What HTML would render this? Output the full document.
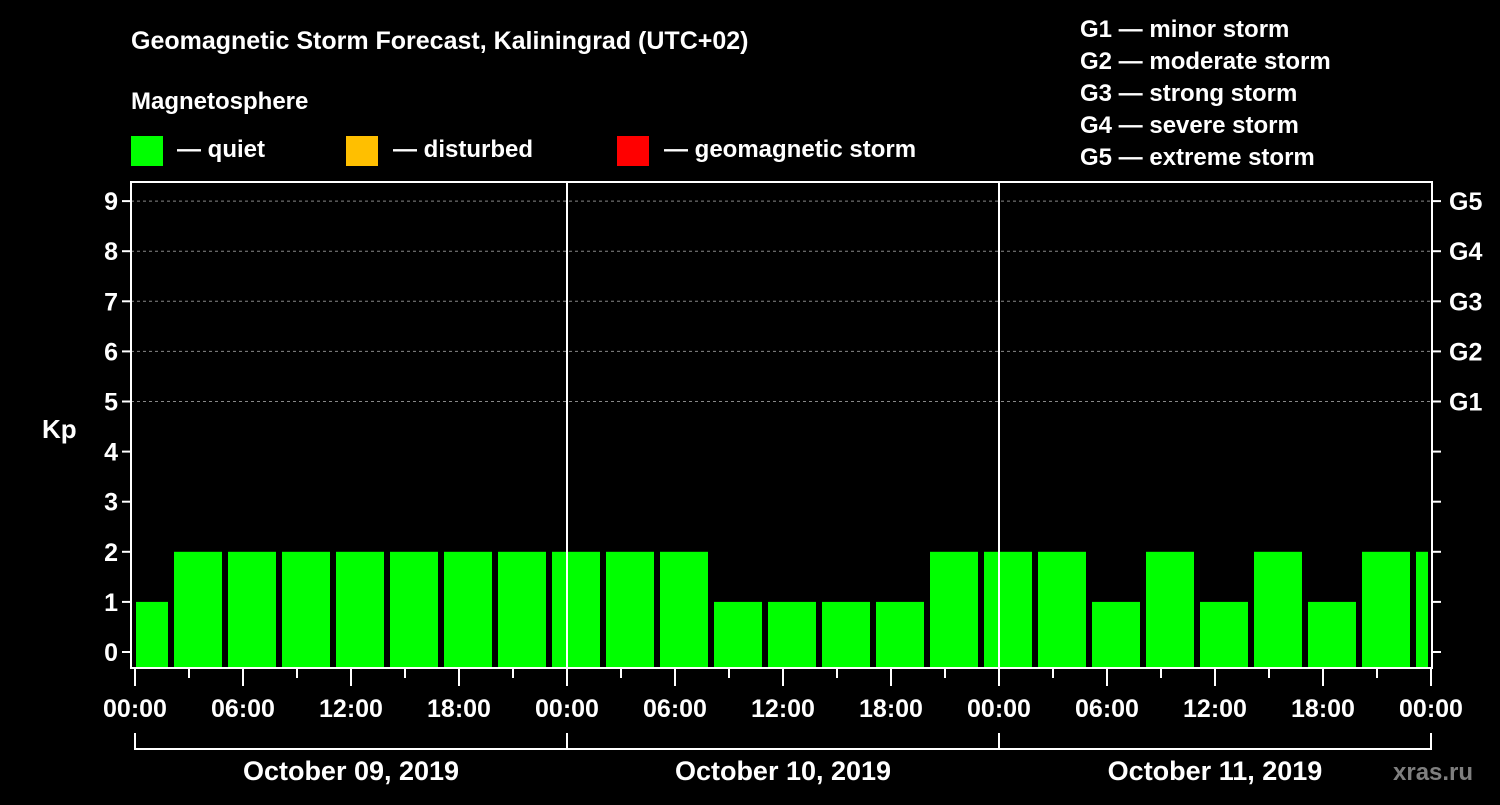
<!DOCTYPE html>
<html><head><meta charset="utf-8"><style>
body{margin:0;background:#000;width:1500px;height:800px;overflow:hidden}
text{font-family:"Liberation Sans",Arial,sans-serif;font-weight:bold;fill:#fff}
</style></head><body>
<svg id="c" width="1500" height="800">
<text x="131" y="49" font-size="25">Geomagnetic Storm Forecast, Kaliningrad (UTC+02)</text>
<text x="131" y="109" font-size="24">Magnetosphere</text>
<g>
<rect x="131" y="136" width="32" height="30" fill="#00ff00"/>
<text x="177" y="157" font-size="24">— quiet</text>
<rect x="346" y="136" width="32" height="30" fill="#ffbf00"/>
<text x="393" y="157" font-size="24">— disturbed</text>
<rect x="617" y="136" width="32" height="30" fill="#ff0000"/>
<text x="664" y="157" font-size="24">— geomagnetic storm</text>
</g>
<g font-size="24">
<text x="1080" y="37">G1 — minor storm</text>
<text x="1080" y="69">G2 — moderate storm</text>
<text x="1080" y="101">G3 — strong storm</text>
<text x="1080" y="133">G4 — severe storm</text>
<text x="1080" y="165">G5 — extreme storm</text>
</g>
<text x="42" y="438" font-size="26">Kp</text>
<text x="1393" y="780" font-size="24" fill="#888" style="fill:#7f7f7f">xras.ru</text>
<g id="grid"></g><g id="bars"></g><g id="axes"></g>
</svg>
<script>
const kpValues=[1,2,2,2,2,2,2,2, 2,2,2,1,1,1,1,2, 2,2,1,2,1,2,1,2,2];
const startHours=[-1,2,5,8,11,14,17,20,23,26,29,32,35,38,41,44,47,50,53,56,59,62,65,68,71];
const yTicks=[0,1,2,3,4,5,6,7,8,9];
const gLabels=["G1","G2","G3","G4","G5"];
const gLevels=[5,6,7,8,9];
const xTickLabels=["00:00","06:00","12:00","18:00","00:00","06:00","12:00","18:00","00:00","06:00","12:00","18:00","00:00"];
const dayLabels=["October 09, 2019","October 10, 2019","October 11, 2019"];
const NS="http://www.w3.org/2000/svg";
const L=131,R=1432,T=182,B=668;
const xs=h=>135+18*h;
const ys=v=>652-50.1*v;
function mk(p,tag,a){const e=document.createElementNS(NS,tag);for(const k in a)e.setAttribute(k,a[k]);document.getElementById(p).appendChild(e);return e;}
yTicks.forEach(v=>{if(v>=5){const e=mk('grid','line',{x1:L,x2:R,y1:ys(v),y2:ys(v),stroke:'#888','stroke-dasharray':'3,3','stroke-width':1});

}});
kpValues.forEach((v,i)=>{const x1=Math.max(xs(startHours[i])+3,136),x2=Math.min(xs(startHours[i]+3)-3,1428);
const c=v>=5?'#ff0000':(v>=4?'#ffbf00':'#00ff00');
const e=mk('bars','rect',{x:x1,y:ys(v),width:x2-x1,height:667-ys(v),fill:c});

});
[1,2].forEach(d=>{const e=mk('axes','line',{x1:xs(24*d),x2:xs(24*d),y1:T,y2:B,stroke:'#fff','stroke-width':2});

});
const f=mk('axes','rect',{x:L,y:T,width:R-L,height:B-T,fill:'none',stroke:'#fff','stroke-width':2});


yTicks.forEach(v=>{mk('axes','line',{x1:L-9,x2:L,y1:ys(v),y2:ys(v),stroke:'#fff','stroke-width':2});
mk('axes','line',{x1:R,x2:R+9,y1:ys(v),y2:ys(v),stroke:'#fff','stroke-width':2});
const t=mk('axes','text',{x:L-13,y:ys(v)+9,'font-size':25,'text-anchor':'end'});t.textContent=v;

});
gLevels.forEach((v,i)=>{const t=mk('axes','text',{x:1449,y:ys(v)+9,'font-size':25});t.textContent=gLabels[i];

});
for(let h=0;h<=72;h+=3){const maj=h%6==0;mk('axes','line',{x1:xs(h),x2:xs(h),y1:B,y2:maj?686:678,stroke:'#fff','stroke-width':2});}
xTickLabels.forEach((s,i)=>{const t=mk('axes','text',{x:xs(6*i),y:717,'font-size':25,'text-anchor':'middle'});t.textContent=s;

});
mk('axes','line',{x1:xs(0),x2:xs(72),y1:749,y2:749,stroke:'#fff','stroke-width':2});
for(let d=0;d<=3;d++)mk('axes','line',{x1:xs(24*d),x2:xs(24*d),y1:733,y2:750,stroke:'#fff','stroke-width':2});
dayLabels.forEach((s,i)=>{const t=mk('axes','text',{x:xs(24*i+12),y:780,'font-size':27,'text-anchor':'middle'});t.textContent=s;

});
</script>
</body></html>
